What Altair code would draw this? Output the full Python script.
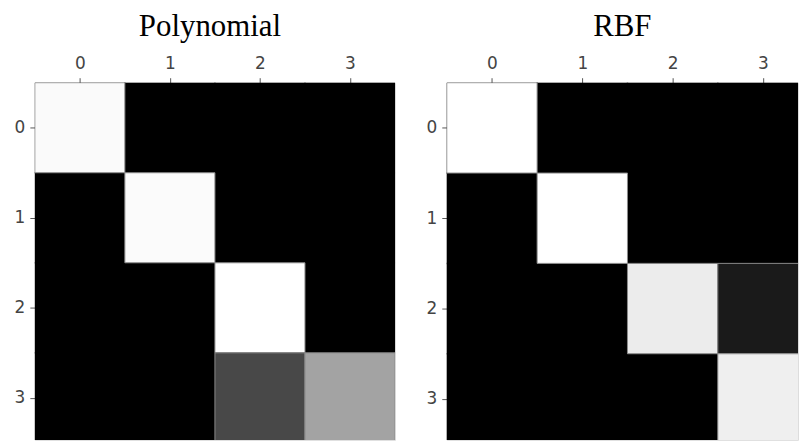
import altair as alt
import pandas as pd

labels = [0, 1, 2, 3]
poly_values = [
    [0.98, 0.0, 0.0, 0.0],
    [0.0, 0.985, 0.0, 0.0],
    [0.0, 0.0, 1.0, 0.0],
    [0.0, 0.0, 0.282, 0.639],
]
rbf_values = [
    [1.0, 0.0, 0.0, 0.0],
    [0.0, 1.0, 0.0, 0.0],
    [0.0, 0.0, 0.925, 0.102],
    [0.0, 0.0, 0.0, 0.937],
]
titles = ["Polynomial", "RBF"]


def to_df(mat):
    rows = []
    for i, r in enumerate(labels):
        for j, c in enumerate(labels):
            rows.append({"row": r, "col": c, "r0": r - 0.5, "r1": r + 0.5,
                         "c0": c - 0.5, "c1": c + 0.5, "v": mat[i][j]})
    return pd.DataFrame(rows)


axis_common = dict(
    labelFont="DejaVu Sans",
    labelFontSize=17,
    labelColor="#444444",
    tickColor="#555555",
    tickSize=5,
    labelPadding=5,
    domain=False,
    grid=False,
    title=None,
    labelAngle=0,
    values=labels,
    format="d",
    labelFlush=False,
    labelOverlap=False,
)


def panel(mat, title, w, h, xmax, ymax, dx):
    base = alt.Chart(to_df(mat)).encode(
        x=alt.X("c0:Q", scale=alt.Scale(domain=[-0.5, xmax], nice=False, zero=False),
                axis=alt.Axis(orient="top", minExtent=27, maxExtent=27, **axis_common)),
        x2="c1:Q",
        y=alt.Y("r0:Q", scale=alt.Scale(domain=[-0.5, ymax], nice=False, zero=False,
                                        reverse=True),
                axis=alt.Axis(orient="left", minExtent=21, maxExtent=21, **axis_common)),
        y2="r1:Q",
        color=alt.Color("v:Q", scale=alt.Scale(domain=[0, 1], range=["#000000", "#ffffff"],
                                               interpolate="rgb"),
                        legend=None),
    )
    cells = base.mark_rect(clip=True, stroke="#000000", strokeWidth=1.5)
    bright = base.transform_filter(alt.datum.v > 0.05).mark_rect(
        clip=True, stroke="#8a8a8a", strokeWidth=1)
    return alt.layer(cells, bright).properties(
        width=w,
        height=h,
        title=alt.TitleParams(title, font="Liberation Serif", fontSize=31,
                              fontWeight="normal", color="#000000", offset=12,
                              anchor="middle", dx=dx),
    )


left = panel(poly_values, titles[0], 362, 359, 3.5, -0.5 + 359 / 90.5, -5)
right = panel(rbf_values, titles[1], 353, 359, -0.5 + 353 / 90.8, -0.5 + 359 / 90.8, 0)

chart = (
    alt.hconcat(left, right, spacing=29)
    .properties(padding={"left": 13, "top": 9, "right": 0, "bottom": 0})
    .configure_view(stroke="#888888", strokeWidth=1, fill="#000000")
    .configure(background="#ffffff")
)

chart.save("out.html", embed_options={"renderer": "svg", "actions": False})
